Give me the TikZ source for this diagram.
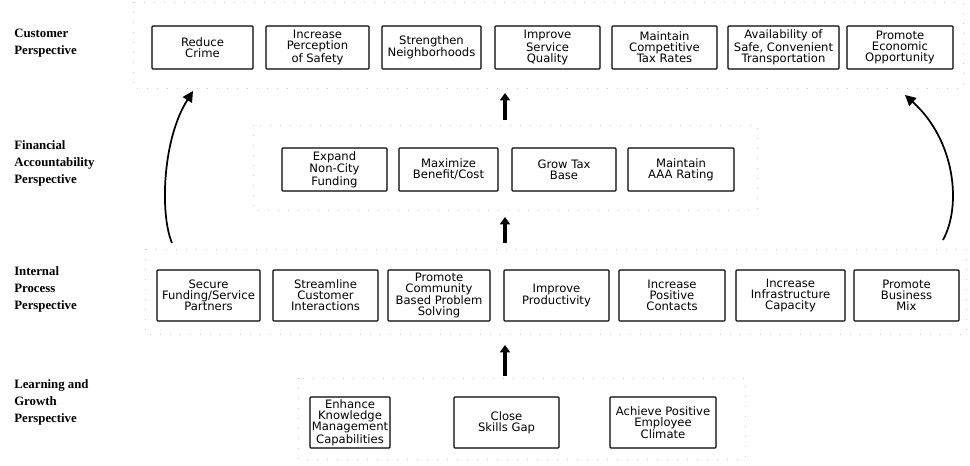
\documentclass[tikz,border=0pt]{standalone}
\usepackage{fontspec}
\setmainfont{Liberation Serif}
\newfontfamily\boxfont{DejaVu Sans}
\usetikzlibrary{arrows.meta}

\tikzset{
  objbox/.style={draw, line width=0.8pt, rounded corners=0.6pt, align=center,
    inner sep=0pt, font=\boxfont\fontsize{8.7}{8.3}\selectfont},
  rowA/.style={objbox, minimum height=32.25pt},
  rowB/.style={objbox, minimum height=38.25pt},
  persp/.style={anchor=west, align=left, inner sep=0pt,
    font=\bfseries\fontsize{9.6}{13}\selectfont},
  band/.style={gray!45, line width=0.5pt, dash pattern=on 0.5pt off 7pt},
  uparrow/.style={line width=2.6pt, -{Triangle[length=5.5pt,width=7.5pt]}},
  loop/.style={line width=1.3pt, -{Triangle[length=8pt,width=8pt]}}
}

\begin{document}
\begin{tikzpicture}[x=0.75pt,y=-0.75pt]
\fill[white] (0,0) rectangle (970,466);
\useasboundingbox (0,0) rectangle (970,466);

% faint dotted frames around the four perspective rows
\draw[band] (133,2) rectangle (963,88);
\draw[band] (253,125) rectangle (757,210);
\draw[band] (145,249) rectangle (966,334);
\draw[band] (298,378) rectangle (745,459);

% perspective labels
\node[persp] (lcust) at (14,43) {Customer\\Perspective};
\node[persp] (lfin)  at (14,163.5) {Financial\\Accountability\\Perspective};
\node[persp] (lint)  at (14,289.5) {Internal\\Process\\Perspective};
\node[persp] (llrn)  at (14,402.5) {Learning and\\Growth\\Perspective};

% customer objectives
\node[rowA, minimum width=75.75pt] (c1) at (202.5,47.5) {Reduce\\Crime};
\node[rowA, minimum width=77.25pt] (c2) at (317.5,47.5) {Increase\\Perception\\of Safety};
\node[rowA, minimum width=74.25pt] (c3) at (431.5,47.5) {Strengthen\\Neighborhoods};
\node[rowA, minimum width=78.75pt] (c4) at (547.5,47.5) {Improve\\Service\\Quality};
\node[rowA, minimum width=78.75pt] (c5) at (664.5,47.5) {Maintain\\Competitive\\Tax Rates};
\node[rowA, minimum width=83.25pt] (c6) at (783.5,47.5) {Availability of\\Safe, Convenient\\Transportation};
\node[rowA, minimum width=79.5pt]  (c7) at (900,47.5) {Promote\\Economic\\Opportunity};

% financial objectives
\node[rowA, minimum width=78.75pt] (f1) at (334.5,169.5) {Expand\\Non-City\\Funding};
\node[rowA, minimum width=74.25pt] (f2) at (448.5,169.5) {Maximize\\Benefit/Cost};
\node[rowA, minimum width=78pt]    (f3) at (564,169.5) {Grow Tax\\Base};
\node[rowA, minimum width=79.5pt]  (f4) at (681,169.5) {Maintain\\AAA Rating};

% internal process objectives
\node[rowB, minimum width=77.25pt] (p1) at (208.5,295.5) {Secure\\Funding/Service\\Partners};
\node[rowB, minimum width=78.75pt] (p2) at (325.5,295.5) {Streamline\\Customer\\Interactions};
\node[rowB, minimum width=76.5pt]  (p3) at (439,295.5) {Promote\\Community\\Based Problem\\Solving};
\node[rowB, minimum width=78.75pt] (p4) at (556.5,295.5) {Improve\\Productivity};
\node[rowB, minimum width=79.5pt]  (p5) at (672,295.5) {Increase\\Positive\\Contacts};
\node[rowB, minimum width=81.75pt] (p6) at (790.5,295.5) {Increase\\Infrastructure\\Capacity};
\node[rowB, minimum width=78.75pt] (p7) at (906.5,295.5) {Promote\\Business\\Mix};

% learning and growth objectives
\node[rowB, minimum width=60pt]    (g1) at (350,422.5) {Enhance\\Knowledge\\Management\\Capabilities};
\node[rowB, minimum width=78.75pt] (g2) at (506.5,422.5) {Close\\Skills Gap};
\node[rowB, minimum width=79.5pt]  (g3) at (663,422.5) {Achieve Positive\\Employee\\Climate};

% arrow end points between the rows
\coordinate (u1a) at (505,120); \coordinate (u1b) at (505,93);
\coordinate (u2a) at (505,243); \coordinate (u2b) at (505,217);
\coordinate (u3a) at (505,376); \coordinate (u3b) at (505,345);
\coordinate (la) at (172,243);  \coordinate (lb) at (193,91);
\coordinate (ra) at (943,240);  \coordinate (rb) at (905,95);

\draw[uparrow] (u1a) -- (u1b);
\draw[uparrow] (u2a) -- (u2b);
\draw[uparrow] (u3a) -- (u3b);

\draw[loop] (la) .. controls (160,215) and (162,140) .. (lb);
\draw[loop] (ra) .. controls (962,205) and (955,140) .. (rb);
\end{tikzpicture}
\end{document}
